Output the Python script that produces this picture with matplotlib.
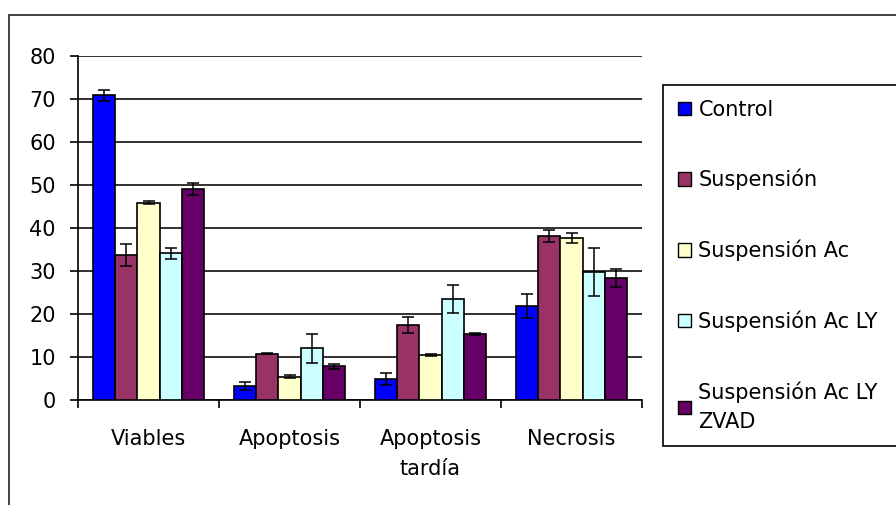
import numpy as np
import matplotlib.pyplot as plt
from matplotlib.patches import Rectangle, Patch

categories = ['Viables', 'Apoptosis', 'Apoptosis\ntardía', 'Necrosis']
series = ['Control', 'Suspensión', 'Suspensión Ac', 'Suspensión Ac LY',
          'Suspensión Ac LY\nZVAD']
colors = ['#0000FF', '#993366', '#FFFFCC', '#CCFFFF', '#660066']

# mean values per series (Viables, Apoptosis, Apoptosis tardía, Necrosis)
control = [70.9, 3.2, 4.9, 21.9]
suspension = [33.7, 10.8, 17.4, 38.1]
suspension_ac = [45.9, 5.4, 10.5, 37.6]
suspension_ac_ly = [34.1, 12.0, 23.5, 29.8]
suspension_ac_ly_zvad = [49.1, 7.8, 15.3, 28.4]

# error bars
control_err = [1.3, 0.9, 1.4, 2.8]
suspension_err = [2.5, 0.2, 1.9, 1.4]
suspension_ac_err = [0.3, 0.3, 0.3, 1.2]
suspension_ac_ly_err = [1.2, 3.4, 3.3, 5.5]
suspension_ac_ly_zvad_err = [1.4, 0.5, 0.2, 2.1]

values = [control, suspension, suspension_ac, suspension_ac_ly, suspension_ac_ly_zvad]
errors = [control_err, suspension_err, suspension_ac_err, suspension_ac_ly_err,
          suspension_ac_ly_zvad_err]

plt.rcParams['font.family'] = ['DejaVu Sans']
FS = 15

fig = plt.figure(figsize=(8.96, 5.05), dpi=100)
ax = fig.add_axes([78 / 896, 1 - 400 / 505, (642 - 78) / 896, (400 - 56) / 505])

# outer chart frame
fig.patches.append(Rectangle((9 / 896, -0.1), 1.2, 1.1 - 15 / 505,
                             transform=fig.transFigure, fill=False,
                             edgecolor='#222222', lw=1.2, zorder=0))

x = np.arange(len(categories))
group = 0.79
w = group / len(series)
for i, (vals, errs, c) in enumerate(zip(values, errors, colors)):
    pos = x - group / 2 + w * (i + 0.5)
    ax.bar(pos, vals, width=w, color=c, edgecolor='black', linewidth=1.2, zorder=3,
           label=series[i])
    ax.errorbar(pos, vals, yerr=errs, fmt='none', ecolor='black', elinewidth=1.1,
                capsize=4.5, capthick=1.1, zorder=4)

ax.set_xlim(-0.5, len(categories) - 0.5)
ax.set_ylim(0, 80)
ax.set_yticks(range(0, 81, 10))
ax.yaxis.grid(True, color='#222222', linewidth=1.3, zorder=0)
ax.set_axisbelow(True)

ax.set_xticks(np.arange(-0.5, len(categories), 1.0))
ax.set_xticklabels([])
ax.set_xticks(x, minor=True)
ax.set_xticklabels(categories, minor=True, fontsize=FS, linespacing=1.6)
ax.tick_params(axis='x', which='major', direction='out', length=6, width=1.2)
ax.tick_params(axis='x', which='minor', length=0, pad=21)
ax.tick_params(axis='y', direction='out', length=6, width=1.2, labelsize=FS, pad=10)

for s in ['top', 'right']:
    ax.spines[s].set_visible(False)
for s in ['left', 'bottom']:
    ax.spines[s].set_linewidth(1.2)
    ax.spines[s].set_color('black')

handles = [Patch(facecolor=c, edgecolor='black', linewidth=1.0) for c in colors]
leg = fig.legend(handles, series, loc='upper left', mode='expand',
                 bbox_to_anchor=(663 / 896, 1 - 438 / 505, 0.3, (438 - 85) / 505),
                 borderaxespad=0,
                 fontsize=FS, frameon=True, fancybox=False, framealpha=1,
                 edgecolor='black', handlelength=0.65, handleheight=0.6,
                 handletextpad=0.35, labelspacing=2.37, borderpad=0.7)
leg.get_frame().set_linewidth(1.2)
for t in leg.get_texts():
    t.set_linespacing(1.55)

fig.savefig('out.png', dpi=100)
